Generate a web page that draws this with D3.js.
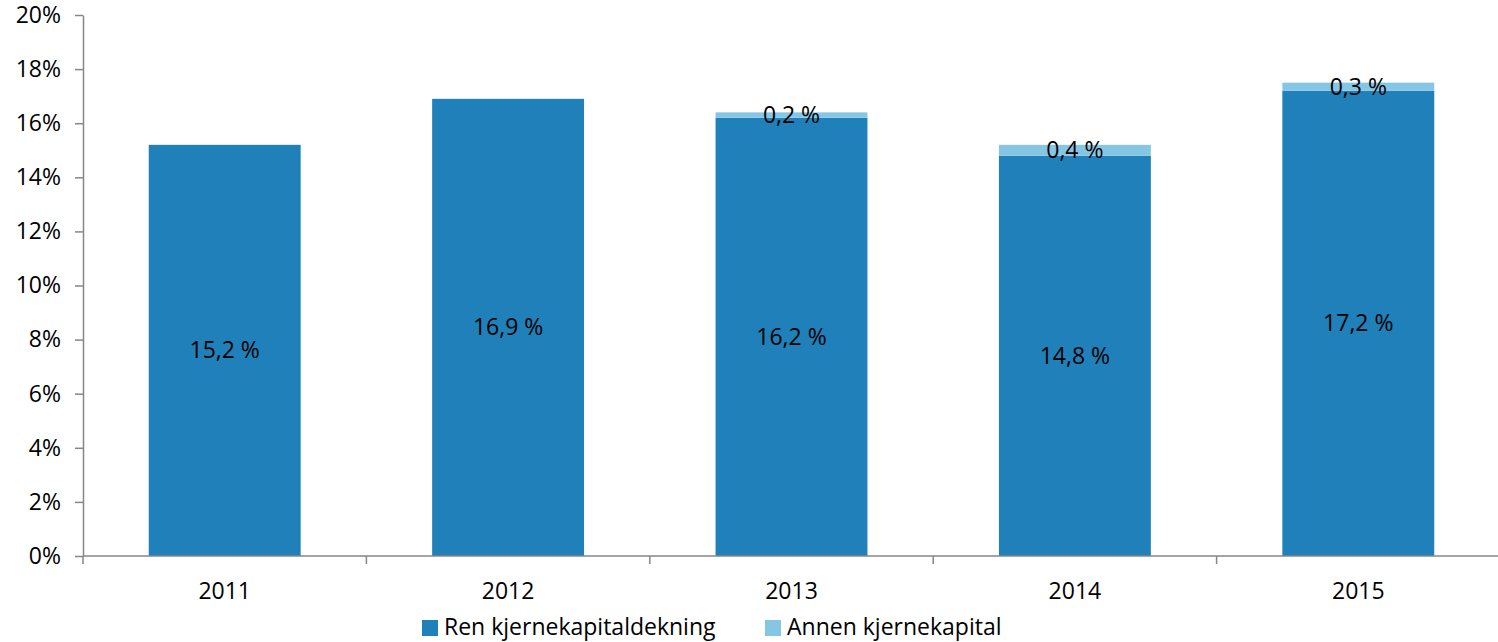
<!DOCTYPE html>
<html>
<head>
<meta charset="utf-8">
<script src="https://cdn.jsdelivr.net/npm/d3@7"></script>
<style>
  body { margin: 0; background: #fff; }
  text { font-family: 'Open Sans', sans-serif; fill: #000; }
</style>
</head>
<body>
<div id="chart"></div>
<script>
// Data.
const years = ['2011', '2012', '2013', '2014', '2015'];
const renKjerne = [15.2, 16.9, 16.2, 14.8, 17.2];
const annenKjerne = [0, 0, 0.2, 0.4, 0.3];
const seriesNames = ['Ren kjernekapitaldekning', 'Annen kjernekapital'];
const yTicks = [0, 2, 4, 6, 8, 10, 12, 14, 16, 18, 20];

const attrs = {
  svgWidth: 1498,
  svgHeight: 642,
  left: 83,
  right: 1500,
  top: 15,
  bottom: 556,
  colors: ['#1f80ba', '#86c6e5'],
  axisColor: '#868686',
  fontSize: 23
};

const svg = d3.select('#chart').append('svg')
  .attr('width', attrs.svgWidth)
  .attr('height', attrs.svgHeight);

// Scales.
const x = d3.scaleBand()
  .domain(years)
  .range([attrs.left, attrs.right])
  .paddingInner(0.464)
  .paddingOuter(0.232);

const y = d3.scaleLinear()
  .domain([0, 20])
  .range([attrs.bottom, attrs.top]);

const stackData = years.map((yr, i) => ({ year: yr, ren: renKjerne[i], annen: annenKjerne[i] }));
const stacked = d3.stack().keys(['ren', 'annen'])(stackData);

// Bars.
const layers = svg.selectAll('g.layer')
  .data(stacked)
  .join('g')
  .attr('class', 'layer')
  .attr('fill', (d, i) => attrs.colors[i]);

layers.selectAll('rect')
  .data(d => d)
  .join('rect')
  .attr('x', d => x(d.data.year))
  .attr('width', x.bandwidth())
  .attr('y', d => y(d[1]))
  .attr('height', d => y(d[0]) - y(d[1]));

// Data labels.
const fmt = v => v.toFixed(1).replace('.', ',') + ' %';
layers.selectAll('text')
  .data(d => d.filter(p => p[1] - p[0] > 0))
  .join('text')
  .attr('x', d => x(d.data.year) + x.bandwidth() / 2)
  .attr('y', d => y((d[0] + d[1]) / 2))
  .attr('dy', '0.35em')
  .attr('text-anchor', 'middle')
  .attr('font-size', attrs.fontSize)
  .attr('fill', '#000')
  .text(d => fmt(d[1] - d[0]));

// Y axis.
const yAxis = svg.append('g')
  .attr('transform', `translate(${attrs.left},0)`)
  .call(d3.axisLeft(y).tickValues(yTicks).tickFormat(d => d + '%').tickSize(8).tickSizeOuter(0).tickPadding(14));

// X axis with category boundary ticks.
const xAxis = svg.append('g')
  .attr('transform', `translate(0,${attrs.bottom})`);
xAxis.append('line')
  .attr('x1', attrs.left).attr('x2', attrs.right);
xAxis.selectAll('line.tick')
  .data(years)
  .join('line')
  .attr('class', 'tick')
  .attr('x1', d => x(d) - x.step() * x.paddingOuter())
  .attr('x2', d => x(d) - x.step() * x.paddingOuter())
  .attr('y1', 0).attr('y2', 8);
xAxis.selectAll('text')
  .data(years)
  .join('text')
  .attr('x', d => x(d) + x.bandwidth() / 2)
  .attr('y', 35)
  .attr('dy', '0.35em')
  .attr('text-anchor', 'middle')
  .attr('font-size', attrs.fontSize)
  .text(d => d);
xAxis.selectAll('line').attr('stroke', attrs.axisColor).attr('stroke-width', 1.5);

yAxis.select('.domain').attr('stroke', attrs.axisColor).attr('stroke-width', 1.5);
yAxis.selectAll('.tick line').attr('stroke', attrs.axisColor).attr('stroke-width', 1.5);
yAxis.selectAll('.tick text')
  .attr('font-size', attrs.fontSize)
  .attr('font-family', "'Open Sans', sans-serif")
  .attr('fill', '#000');

// Legend.
const legendX = [422, 765];
const legend = svg.append('g').attr('transform', 'translate(0,627)');
const items = legend.selectAll('g')
  .data(seriesNames)
  .join('g')
  .attr('transform', (d, i) => `translate(${legendX[i]},0)`);
items.append('rect')
  .attr('x', 0).attr('y', -7)
  .attr('width', 16).attr('height', 16)
  .attr('fill', (d, i) => attrs.colors[i]);
items.append('text')
  .attr('x', 22)
  .attr('dy', '0.35em')
  .attr('font-size', attrs.fontSize)
  .text(d => d);
</script>
</body>
</html>
